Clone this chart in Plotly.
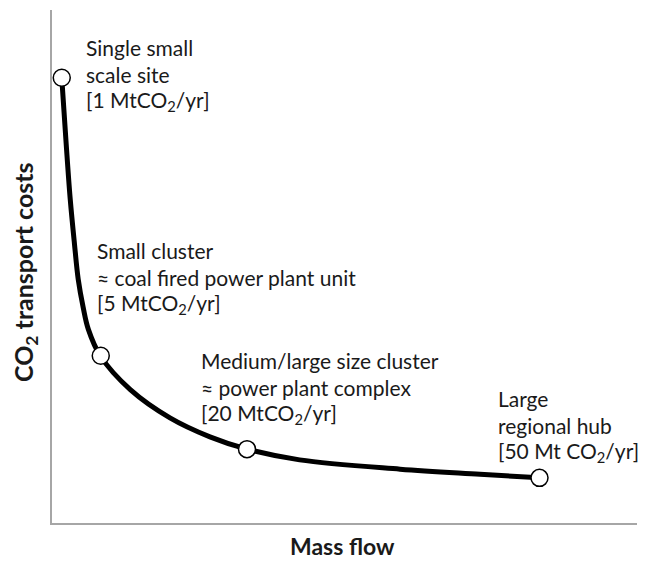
import plotly.graph_objects as go

# Data (arbitrary units)
site_flow = [1, 5, 20, 50]            # MtCO2/yr
site_cost = [86.8, 32.6, 14.4, 8.8]   # relative transport cost

curve_flow = [1.0, 1.45, 1.87, 2.3, 2.69, 3.2, 3.72, 4.95, 8.03, 12.1, 16.2, 20.0, 25.4, 35.7, 43.9, 50.0]
curve_cost = [86.8, 74.0, 63.1, 54.5, 47.5, 42.0, 37.8, 32.6, 26.0, 20.5, 16.8, 14.4, 12.3, 10.5, 9.5, 8.8]

label_lines = [
    ["Single small", "scale site", "[1 MtCO<sub>2</sub>/yr]"],
    ["Small cluster", "≈ coal fired power plant unit", "[5 MtCO<sub>2</sub>/yr]"],
    ["Medium/large size cluster", "≈ power plant complex", "[20 MtCO<sub>2</sub>/yr]"],
    ["Large", "regional hub", "[50 Mt CO<sub>2</sub>/yr]"],
]
x_title = "Mass flow"
y_title = "CO<sub>2</sub> transport costs"

# page has an 8px body margin; figure sized to fit the window
OFF = 8
W, H = 639, 555
ML, MR, MT, MB = 44, 10, 2, 40
FONT = "Lato, Open Sans, sans-serif"

fig = go.Figure()
fig.add_trace(go.Scatter(
    x=curve_flow, y=curve_cost, mode="lines",
    line=dict(color="black", width=5, shape="spline", smoothing=1.0),
    hoverinfo="skip", showlegend=False,
))
fig.add_trace(go.Scatter(
    x=site_flow, y=site_cost, mode="markers",
    marker=dict(size=17, color="white", line=dict(color="black", width=1.5)),
    showlegend=False,
))

def px_to_paper(px, py):
    # px, py in page pixels
    fx, fy = px - OFF, py - OFF
    return (fx - ML) / (W - ML - MR), 1 - (fy - MT) / (H - MT - MB)

# label block positions in page pixels: (left x, centre y of first line)
label_px = [(84, 47), (95, 250), (199, 360), (496, 398)]
LINE_GAP = 27

for lines, (px, py) in zip(label_lines, label_px):
    for i, ln in enumerate(lines):
        xp, yp = px_to_paper(px, py + i * LINE_GAP)
        fig.add_annotation(
            x=xp, y=yp, xref="paper", yref="paper",
            xanchor="left", yanchor="middle", align="left",
            text=ln, showarrow=False,
            font=dict(family=FONT, size=21, color="#1a1a1a"),
        )

# axis titles
xp, yp = px_to_paper(342, 546)
fig.add_annotation(x=xp, y=yp, xref="paper", yref="paper", showarrow=False,
                   xanchor="center", yanchor="middle", text="<b>" + x_title + "</b>",
                   font=dict(family=FONT, size=23, color="#1a1a1a"))
xp, yp = px_to_paper(25, 272)
fig.add_annotation(x=xp, y=yp, xref="paper", yref="paper", showarrow=False,
                   xanchor="center", yanchor="middle", textangle=-90,
                   text="<b>" + y_title + "</b>",
                   font=dict(family=FONT, size=25, color="#1a1a1a"))

fig.update_layout(
    width=W, height=H,
    margin=dict(l=ML, r=MR, t=MT, b=MB, autoexpand=False),
    paper_bgcolor="white", plot_bgcolor="white",
    xaxis=dict(
        range=[0, 60], showgrid=False, zeroline=False, showticklabels=False,
        ticks="", showline=True, linecolor="#A6A6A6", linewidth=2, automargin=False,
    ),
    yaxis=dict(
        range=[0, 100], showgrid=False, zeroline=False, showticklabels=False,
        ticks="", showline=True, linecolor="#A6A6A6", linewidth=2, automargin=False,
    ),
)

fig.write_html("out.html")
